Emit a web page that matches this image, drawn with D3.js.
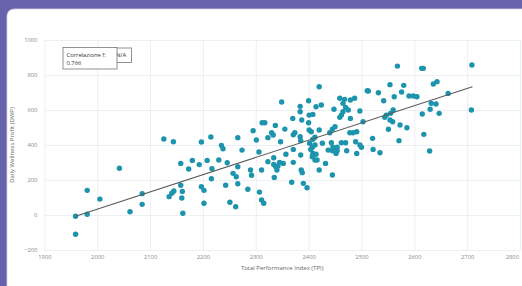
<!DOCTYPE html>
<html>
<head>
<meta charset="utf-8">
<script src="https://cdn.jsdelivr.net/npm/d3@7"></script>
<style>
	body { margin: 0; background: #6762ab; overflow: hidden; }
	text { font-family: "Open Sans", sans-serif; }
</style>
</head>
<body>
<div id="chart"></div>
<script>
// Total Performance Index (TPI) per point
var tpi = [1959, 1959, 1981, 1981, 2005, 2042, 2062, 2085, 2085, 2126, 2144, 2158, 2158, 2145, 2141, 2136, 2161, 2160, 2162, 2173,
	2180, 2193, 2197, 2215, 2208, 2217, 2216, 2197, 2202, 2202, 2230, 2235, 2238, 2246, 2243, 2251, 2262, 2257, 2263, 2266,
	2266, 2266, 2274, 2285, 2290, 2292, 2295, 2301, 2306, 2311, 2307, 2311, 2315, 2312, 2317, 2323, 2323, 2333, 2337, 2330,
	2347, 2355, 2349, 2370, 2371, 2374, 2371, 2357, 2334, 2334, 2342, 2338, 2352, 2345, 2340, 2335, 2368, 2371, 2384, 2384,
	2387, 2384, 2385, 2385, 2386, 2388, 2390, 2397, 2400, 2400, 2401, 2408, 2414, 2424, 2420, 2401, 2405, 2408, 2412, 2420,
	2402, 2407, 2404, 2412, 2408, 2407, 2414, 2412, 2416, 2420, 2432, 2426, 2440, 2445, 2450, 2448, 2459, 2468, 2465, 2475,
	2470, 2465, 2462, 2459, 2487, 2479, 2497, 2479, 2511, 2443, 2446, 2454, 2462, 2470, 2478, 2484, 2491, 2489, 2497, 2437,
	2445, 2452, 2454, 2472, 2491, 2500, 2445, 2568, 2614, 2617, 2709, 2513, 2532, 2554, 2580, 2576, 2562, 2542, 2590, 2598,
	2605, 2636, 2643, 2664, 2632, 2641, 2630, 2647, 2615, 2708, 2560, 2555, 2547, 2544, 2554, 2559, 2503, 2573, 2586, 2551,
	2618, 2571, 2521, 2522, 2535, 2629];

// Daily Wellness Profit (DWP) per point
var dwp = [-7, -110, 141, 4, 91, 267, 19, 122, 61, 434, 419, 295, 170, 137, 124, 105, 135, 97, 10, 263,
	312, 288, 417, 446, 312, 265, 207, 162, 141, 67, 314, 398, 379, 299, 170, 73, 47, 238, 219, 276,
	179, 442, 371, 147, 257, 227, 482, 429, 360, 257, 131, 86, 67, 527, 527, 442, 305, 457, 512, 470,
	419, 491, 646, 552, 459, 470, 375, 347, 327, 289, 280, 276, 295, 301, 257, 215, 187, 301, 621, 590,
	543, 447, 425, 343, 257, 242, 181, 156, 653, 527, 571, 575, 619, 629, 733, 486, 476, 433, 444, 486,
	410, 387, 375, 400, 352, 333, 347, 314, 314, 257, 295, 410, 470, 490, 505, 604, 667, 661, 638, 600,
	615, 590, 571, 558, 667, 657, 594, 552, 710, 413, 387, 387, 413, 413, 470, 470, 476, 419, 400, 371,
	367, 352, 367, 367, 352, 387, 229, 851, 838, 838, 857, 709, 699, 745, 741, 703, 676, 653, 680, 680,
	676, 749, 762, 695, 638, 634, 604, 581, 577, 600, 600, 581, 571, 558, 543, 533, 533, 514, 499, 490,
	461, 425, 438, 375, 356, 366];

// trend line ends
var trendX = [1959, 2710];
var trendY = [-7, 733];

var xTicks = [1900, 2000, 2100, 2200, 2300, 2400, 2500, 2600, 2700, 2800];
var yTicks = [-200, 0, 200, 400, 600, 800, 1000];

var corrLabel = "Correlazione f:";
var corrValue = "0.766";
var corrMissing = "N/A";

var W = 522, H = 286;
var margin = { top: 40, right: 2, bottom: 36, left: 44.4 };
var width = W - margin.left - margin.right;
var height = H - margin.top - margin.bottom;

var svg = d3.select("#chart").append("svg")
	.attr("width", W)
	.attr("height", H);

// white card over the purple frame
svg.append("path")
	.attr("d", "M7,300 L7,17 Q7,9 15,9 L540,9 L540,300 Z")
	.attr("fill", "#fff")
	.attr("stroke", "#d9d9e3")
	.attr("stroke-width", 0.8);

var g = svg.append("g")
	.attr("transform", "translate(" + margin.left + "," + margin.top + ")");

var x = d3.scaleLinear().domain([1900, 2800]).range([0, width]);
var y = d3.scaleLinear().domain([-200, 1000]).range([height, 0]);

// gridlines + tick labels
var xAxis = g.append("g")
	.attr("transform", "translate(0," + height + ")")
	.call(d3.axisBottom(x).tickValues(xTicks).tickSize(-height).tickPadding(5).tickFormat(d3.format("d")));
var yAxis = g.append("g")
	.call(d3.axisLeft(y).tickValues(yTicks).tickSize(-width).tickPadding(7).tickFormat(d3.format("d")));

[xAxis, yAxis].forEach(function (a) {
	a.select(".domain").remove();
	a.selectAll(".tick line").attr("stroke", "#e6ecf2").attr("stroke-width", 0.8);
	a.selectAll(".tick text").attr("fill", "#8a8a8a").style("font-size", "5.8px");
});

// last x label sits at the card edge, keep it inside
xAxis.selectAll(".tick text")
	.filter(function (d) { return d === 2800; })
	.attr("text-anchor", "end")
	.attr("dx", "-1.5");

// points
g.selectAll(".dot")
	.data(tpi.map(function (d, i) { return { x: d, y: dwp[i] }; }))
	.enter()
	.append("circle")
	.attr("class", "dot")
	.attr("cx", function (d) { return x(d.x); })
	.attr("cy", function (d) { return y(d.y); })
	.attr("r", 2.7)
	.attr("fill", "#1d94ad");

// trend line
g.append("line")
	.attr("x1", x(trendX[0]))
	.attr("y1", y(trendY[0]))
	.attr("x2", x(trendX[1]))
	.attr("y2", y(trendY[1]))
	.attr("stroke", "#5a5a5a")
	.attr("stroke-width", 1.1);

// axis titles
svg.append("text")
	.attr("x", margin.left + width / 2)
	.attr("y", 270)
	.attr("text-anchor", "middle")
	.attr("fill", "#666")
	.style("font-size", "6px")
	.text("Total Performance Index (TPI)");

svg.append("text")
	.attr("transform", "translate(14," + (margin.top + height / 2) + ") rotate(-90)")
	.attr("text-anchor", "middle")
	.attr("fill", "#666")
	.style("font-size", "6px")
	.text("Daily Wellness Profit (DWP)");

// correlation boxes (the N/A one sits behind)
var box2 = svg.append("g").attr("transform", "translate(114,48)");
box2.append("rect").attr("width", 17.5).attr("height", 14.5)
	.attr("fill", "#fff").attr("stroke", "#777").attr("stroke-width", 0.8);
box2.append("text").attr("x", 2).attr("y", 8.5)
	.attr("fill", "#333").style("font-size", "5.8px").text(corrMissing);

var box1 = svg.append("g").attr("transform", "translate(63,47.5)");
box1.append("rect").attr("width", 54).attr("height", 21.5)
	.attr("fill", "#fff").attr("stroke", "#777").attr("stroke-width", 0.8);
box1.append("text").attr("x", 3.5).attr("y", 9)
	.attr("fill", "#333").style("font-size", "5.8px").text(corrLabel);
box1.append("text").attr("x", 3.5).attr("y", 17)
	.attr("fill", "#333").style("font-size", "5.8px").text(corrValue);
</script>
</body>
</html>
